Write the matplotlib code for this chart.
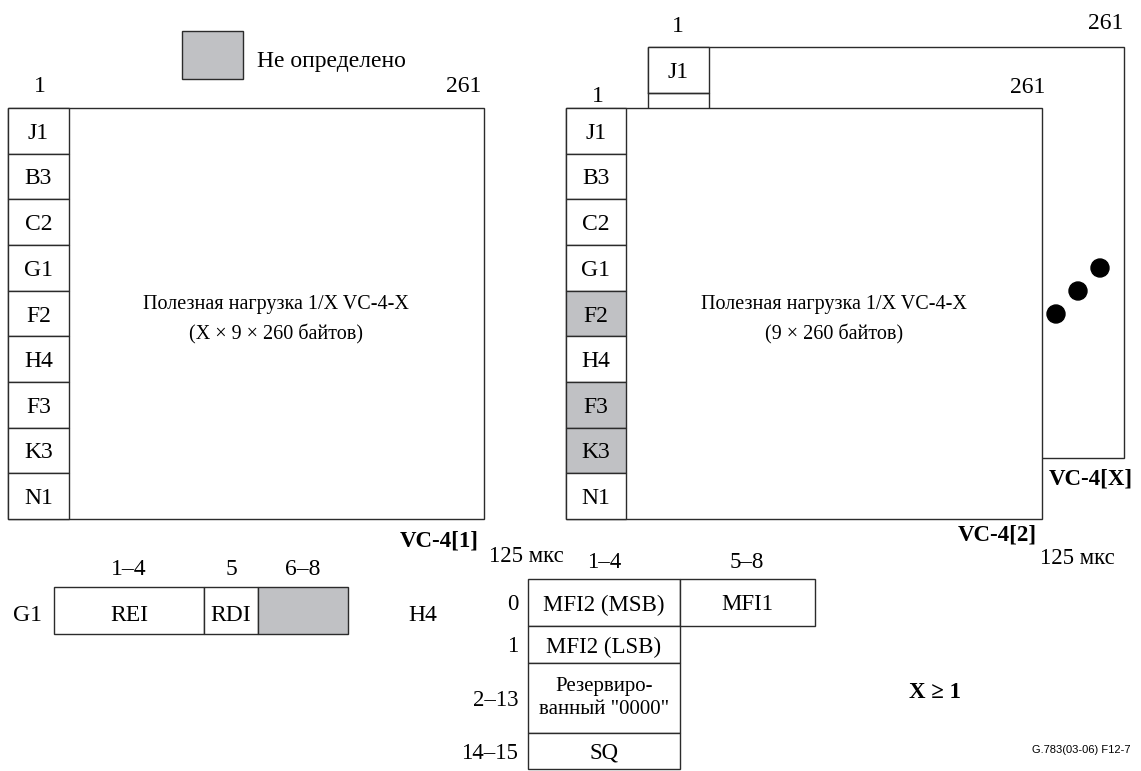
import matplotlib
matplotlib.use('Agg')
import matplotlib.pyplot as plt
from matplotlib.patches import Rectangle, Circle

plt.rcParams['font.family'] = ['Liberation Serif', 'DejaVu Serif']

# overhead bytes of a VC-4 column 1
poh_bytes = ['J1', 'B3', 'C2', 'G1', 'F2', 'H4', 'F3', 'K3', 'N1']
undefined_in_member = ['F2', 'F3', 'K3']

payload_left = ['Полезная нагрузка 1/X VC-4-X', '(X × 9 × 260 байтов)']
payload_right = ['Полезная нагрузка 1/X VC-4-X', '(9 × 260 байтов)']

# G1 byte: bit ranges and fields
g1_bits = ['1–4', '5', '6–8']
g1_fields = ['REI', 'RDI', None]

# H4 byte: multiframe rows and fields
h4_rows = ['0', '1', '2–13', '14–15']
h4_col1 = ['MFI2 (MSB)', 'MFI2 (LSB)', 'Резервиро-\nванный "0000"', 'SQ']
h4_bits = ['1–4', '5–8']

GRAY = '#c0c1c4'
EDGE = '#2b2b2b'
LW = 1.0
FS = 17

fig = plt.figure(figsize=(11.41, 7.71), dpi=100)
ax = fig.add_axes([0, 0, 1, 1])
ax.set_xlim(0, 1141)
ax.set_ylim(771, 0)
ax.axis('off')


def box(x0, y0, x1, y1, fc='white', z=1):
    ax.add_patch(Rectangle((x0, y0), x1 - x0, y1 - y0, facecolor=fc,
                           edgecolor=EDGE, linewidth=LW, zorder=z))


def txt(x, y, s, size=FS, **kw):
    kw.setdefault('ha', 'center')
    kw.setdefault('va', 'center_baseline')
    ax.text(x, y, s, fontsize=size, zorder=10, **kw)


def vc4_frame(x0, x1, y0, y1, xc, gray, z):
    box(x0, y0, x1, y1, z=z)
    rh = (y1 - y0) / len(poh_bytes)
    for i, b in enumerate(poh_bytes):
        fc = GRAY if b in gray else 'white'
        box(x0, y0 + i * rh, xc, y0 + (i + 1) * rh, fc=fc, z=z + 0.1)
        txt((x0 + xc) / 2, y0 + (i + 0.5) * rh, b)


# legend
box(182, 31, 243, 79, fc=GRAY)
txt(257, 59, 'Не определено', ha='left')

# VC-4[1]
vc4_frame(8, 484, 108, 519, 69, [], 2)
txt(40, 84, '1')
txt(464, 84, '261')
txt(276, 302, payload_left[0], size=14.5)
txt(276, 332, payload_left[1], size=14.5)
txt(479, 538, 'VC-4[1]', weight='bold', ha='right', size=16.5)
txt(489, 554, '125 мкс', size=16.5, ha='left')

# VC-4[X] (behind)
box(648, 47, 1124, 458, z=1)
box(648, 47, 709, 93, z=1.1)
ax.plot([648, 709, 709], [93, 93, 108], color=EDGE, lw=LW, zorder=1.2)
txt(678, 70, poh_bytes[0])
txt(678, 24, '1')
txt(1106, 21, '261')
txt(1091, 476, 'VC-4[X]', weight='bold', size=16.5)
for cx, cy in [(1056, 314), (1078, 291), (1100, 268)]:
    ax.add_patch(Circle((cx, cy), 9, color='black', zorder=5))

# VC-4[2]
vc4_frame(566, 1042, 108, 519, 626, undefined_in_member, 3)
txt(598, 94, '1')
txt(1028, 85, '261')
txt(834, 302, payload_right[0], size=14.5)
txt(834, 332, payload_right[1], size=14.5)
txt(1037, 533, 'VC-4[2]', weight='bold', ha='right', size=16.5)
txt(1040, 556, '125 мкс', size=16.5, ha='left')

# G1 byte
g1_edges = [54, 204, 258, 348]
for i, (bits, field) in enumerate(zip(g1_bits, g1_fields)):
    x0, x1 = g1_edges[i], g1_edges[i + 1]
    box(x0, 587, x1, 634, fc='white' if field else GRAY)
    if field:
        txt((x0 + x1) / 2, 613, field)
    txt((x0 + x1) / 2, 567, bits)
txt(28, 613, 'G1')

# H4 byte
txt(423, 613, 'H4')
h4_y = [579, 626, 663, 733, 769]
for i, (r, f) in enumerate(zip(h4_rows, h4_col1)):
    y0, y1 = h4_y[i], h4_y[i + 1]
    box(528, y0, 680, y1)
    small = '\n' in f
    txt(604, (y0 + y1) / 2, f, size=15 if small else 16.5, linespacing=1.25,
        va='center' if small else 'center_baseline')
    txt(518, (y0 + y1) / 2, r, ha='right', size=16.5)
box(680, 579, 815, 626)
txt(747, 602, 'MFI1', size=16.5)
txt(604, 560, h4_bits[0], size=16.5)
txt(747, 560, h4_bits[1], size=16.5)

txt(935, 690, 'X ≥ 1', weight='bold', size=16.5)
txt(1130, 749, 'G.783(03-06) F12-7', size=8, ha='right',
    family=['Liberation Sans', 'DejaVu Sans'])

fig.savefig('out.png', dpi=100, facecolor='white')
